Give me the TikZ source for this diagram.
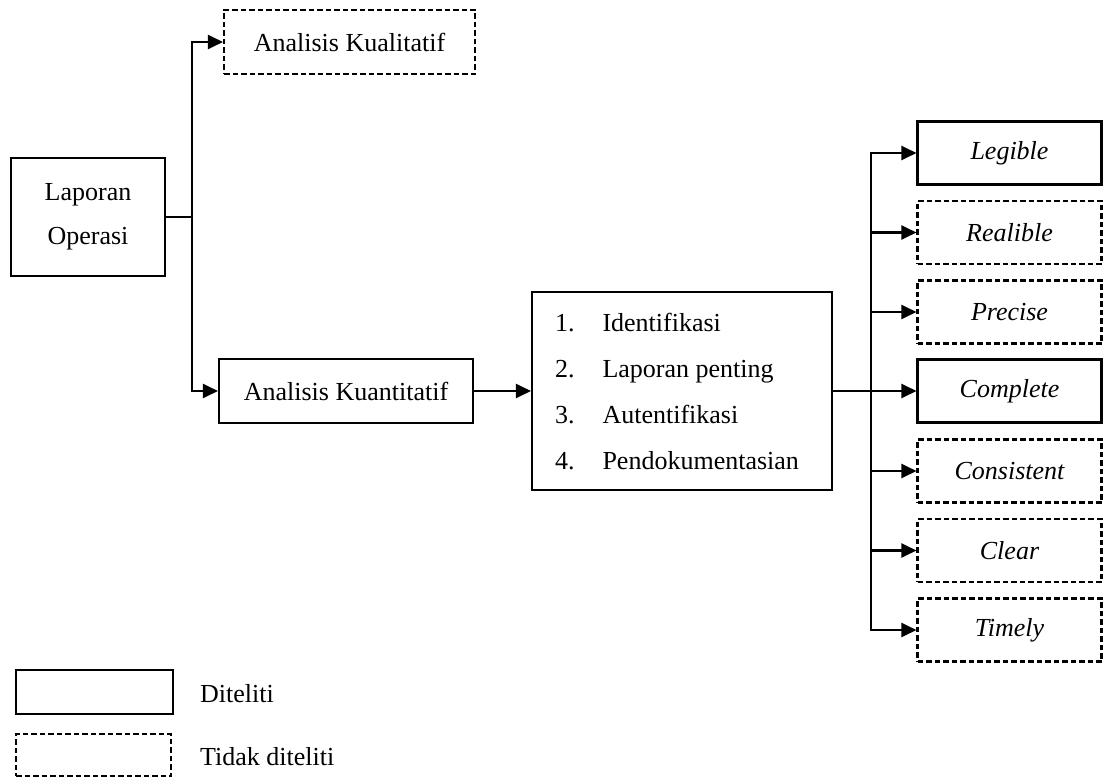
\documentclass[tikz,border=0pt]{standalone}
\usepackage{fontspec}
\setmainfont{Liberation Serif}
\usetikzlibrary{arrows.meta}
\tikzset{
  box/.style={draw, line width=2.1pt, inner sep=0pt, align=center,
    font=\fontsize{26}{44}\selectfont},
  dbox/.style={box, dash pattern=on 5.5pt off 3pt},
  rbox/.style={minimum width=184pt, minimum height=63pt, font=\fontsize{26}{30}\selectfont\itshape},
  conn/.style={line width=2.1pt},
  arr/.style={conn, -{Triangle[length=15pt,width=14pt]}},
  lbl/.style={inner sep=0pt, anchor=base west, font=\fontsize{26}{30}\selectfont}
}
\begin{document}
\begin{tikzpicture}[x=1pt,y=-1pt]
\useasboundingbox (0,0) rectangle (1103,781);
% left part
\node[box, minimum width=154pt, minimum height=118pt] (lap) at (88,217) {Laporan\\Operasi};
\node[dbox, minimum width=251pt, minimum height=64pt] (kual) at (349.5,42) {Analisis Kualitatif};
\node[box, minimum width=254pt, minimum height=64pt] (kuan) at (346,391) {Analisis Kuantitatif};
\node[box, minimum width=300pt, minimum height=198pt, align=left] (list) at (682,391)
  {\fontsize{26}{46}\selectfont\begin{tabular}{@{}l@{\hspace{28pt}}l@{\hspace{10pt}}}
   1. & Identifikasi\\
   2. & Laporan penting\\
   3. & Autentifikasi\\
   4. & Pendokumentasian
   \end{tabular}};
% right boxes
\node[box, rbox] (r1) at (1009.5,153) {Legible};
\node[dbox, rbox] (r2) at (1009.5,232.5) {Realible};
\node[dbox, rbox] (r3) at (1009.5,312) {Precise};
\node[box, rbox] (r4) at (1009.5,391) {Complete};
\node[dbox, rbox] (r5) at (1009.5,471) {Consistent};
\node[dbox, rbox] (r6) at (1009.5,550.5) {Clear};
\node[dbox, rbox] (r7) at (1009.5,630) {Timely};
% connectors
\coordinate (b1) at (192,217);
\draw[conn] (lap.east) -- (b1);
\draw[arr] (b1) |- (kual.west);
\draw[arr] (b1) |- (kuan.west);
\draw[arr] (kuan.east) -- (list.west);
\coordinate (b2) at (871,391);
\draw[conn] (list.east) -- (b2);
\foreach \i in {1,...,7} {\draw[arr] (b2) |- (r\i.west);}
% legend
\node[box, minimum width=157pt, minimum height=44pt] (ls) at (94.5,692) {};
\node[dbox, minimum width=155pt, minimum height=42pt] (ld) at (93.5,755) {};
\node[lbl] (lst) at (200,702) {Diteliti};
\node[lbl] (ldt) at (200,765) {Tidak diteliti};
\end{tikzpicture}
\end{document}
